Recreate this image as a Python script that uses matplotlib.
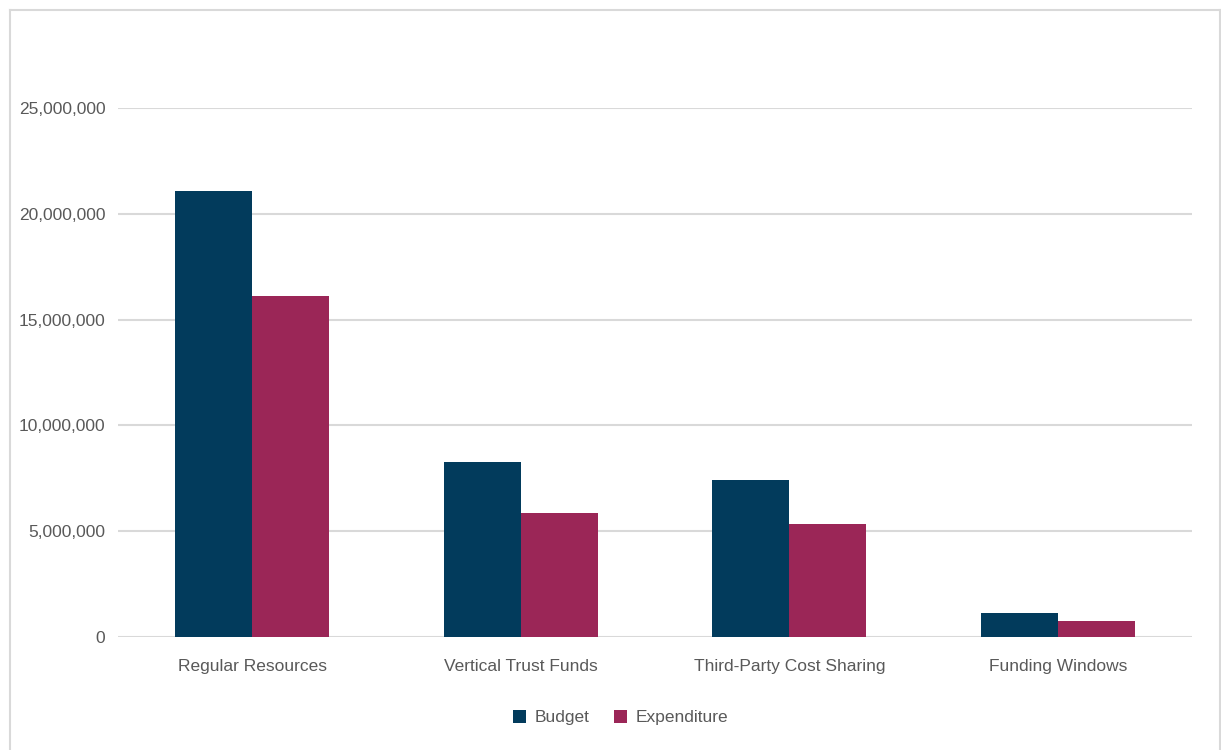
import matplotlib
matplotlib.use("Agg")
import matplotlib.pyplot as plt
from matplotlib.lines import Line2D
import numpy as np

categories = ["Regular Resources", "Vertical Trust Funds", "Third-Party Cost Sharing", "Funding Windows"]
budget = [21100000, 8250000, 7400000, 1120000]
expenditure = [16110000, 5840000, 5320000, 770000]
series_names = ["Budget", "Expenditure"]
y_ticks = [0, 5000000, 10000000, 15000000, 20000000, 25000000]

BUDGET_COLOR = "#023b5c"
EXP_COLOR = "#9b2657"
TEXT_COLOR = "#595959"
GRID_COLOR = "#d9d9d9"

plt.rcParams["font.family"] = ["Liberation Sans", "DejaVu Sans"]

fig = plt.figure(figsize=(12.21, 7.5), dpi=100)
ax = fig.add_axes([0.0966, 0.1507, 0.8797, 0.7053])

x = np.arange(len(categories))
w = 0.286
ax.bar(x - w / 2, budget, width=w, color=BUDGET_COLOR, label=series_names[0], zorder=3)
ax.bar(x + w / 2, expenditure, width=w, color=EXP_COLOR, label=series_names[1], zorder=3)

ax.set_xlim(-0.5, 3.5)
ax.set_ylim(0, 25000000)
ax.set_yticks(y_ticks)
ax.set_yticklabels([f"{v:,.0f}" for v in y_ticks])
ax.set_xticks(x)
ax.set_xticklabels(categories)
ax.tick_params(axis="both", length=0, labelsize=12.5, colors=TEXT_COLOR)
ax.tick_params(axis="x", pad=16)
ax.tick_params(axis="y", pad=9)
ax.grid(axis="y", color=GRID_COLOR, linewidth=1.5, zorder=0)
for s in ax.spines.values():
    s.set_visible(False)

fig.legend(loc="center", bbox_to_anchor=(0.508, 0.043), ncol=2, frameon=False,
           fontsize=12.5, handlelength=0.75, handleheight=0.75, handletextpad=0.5,
           columnspacing=1.4, labelcolor=TEXT_COLOR)

# outer frame
fy = 1 - 10 / 750
fig.add_artist(Line2D([10 / 1221, 1220 / 1221], [fy, fy], color=GRID_COLOR, lw=1.5,
                      transform=fig.transFigure))
fig.add_artist(Line2D([10 / 1221, 10 / 1221], [0, fy], color=GRID_COLOR, lw=1.5,
                      transform=fig.transFigure))
fig.add_artist(Line2D([1220 / 1221, 1220 / 1221], [0, fy], color=GRID_COLOR, lw=1.5,
                      transform=fig.transFigure))

fig.savefig("out.png", dpi=100, facecolor="white")
